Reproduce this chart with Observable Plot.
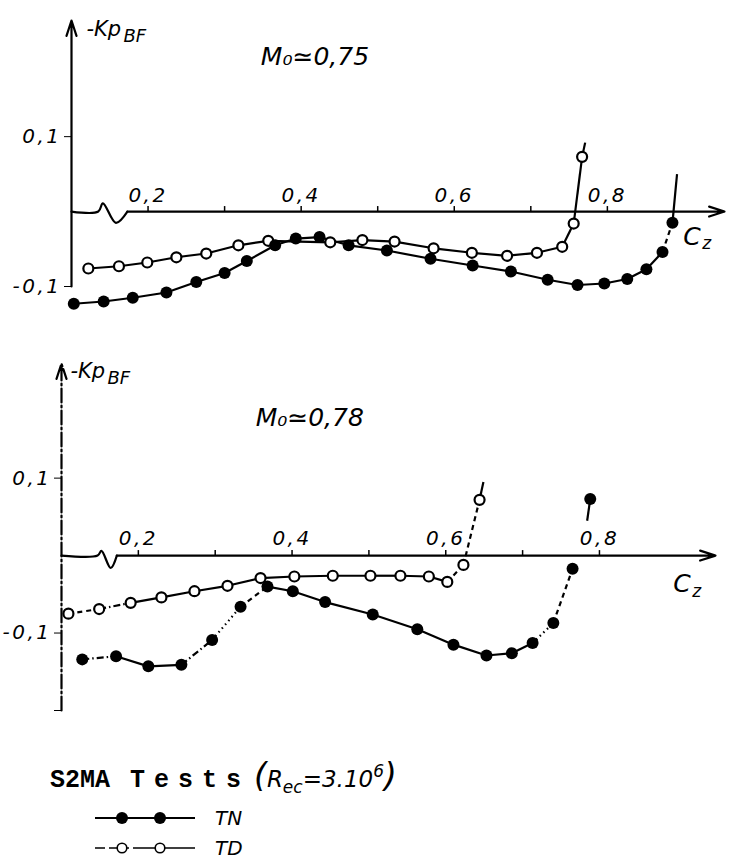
<!DOCTYPE html>
<html>
<head>
<meta charset="utf-8">
<script src="https://cdn.jsdelivr.net/npm/d3@7"></script>
<script src="https://cdn.jsdelivr.net/npm/@observablehq/plot@0.6"></script>
<style>
  html, body { margin: 0; padding: 0; background: #fff; }
  #chart { width: 734px; height: 868px; overflow: hidden; }
  #chart svg { display: block; }
</style>
</head>
<body>
<div id="chart"></div>
<script>
// ---------------- DATA ----------------
const xMajorTicks = [0.2, 0.4, 0.6, 0.8];
const xMinorTicks = [0.3, 0.5, 0.7];
const yTicksTop = [-0.1, 0.1];
const yTicksBottom = [-0.2, -0.1, 0.1];

const machTop = "M₀≃0,75";
const machBottom = "M₀≃0,78";

// M0 ≈ 0.75 — TD (open circles)
const td075Cz = [0.122, 0.162, 0.199, 0.237, 0.276, 0.318, 0.357, 0.438, 0.480, 0.522, 0.573, 0.623, 0.669, 0.708, 0.741, 0.756, 0.767];
const td075Kp = [-0.076, -0.073, -0.068, -0.061, -0.056, -0.045, -0.039, -0.041, -0.038, -0.040, -0.049, -0.055, -0.059, -0.055, -0.047, -0.016, 0.073];
const td075Tail = [0.771, 0.092];

// M0 ≈ 0.75 — TN (filled circles)
const tn075Cz = [0.103, 0.142, 0.180, 0.224, 0.263, 0.300, 0.329, 0.366, 0.393, 0.424, 0.462, 0.512, 0.569, 0.624, 0.674, 0.722, 0.761, 0.796, 0.826, 0.851, 0.872, 0.885];
const tn075Kp = [-0.123, -0.120, -0.115, -0.108, -0.094, -0.082, -0.066, -0.045, -0.036, -0.034, -0.045, -0.052, -0.063, -0.072, -0.080, -0.091, -0.098, -0.096, -0.090, -0.077, -0.054, -0.015];
const tn075Tail = [0.891, 0.050];

// M0 ≈ 0.78 — TD (open circles)
const td078Cz = [0.109, 0.149, 0.190, 0.230, 0.273, 0.316, 0.359, 0.403, 0.453, 0.502, 0.541, 0.578, 0.602, 0.623, 0.644];
const td078Kp = [-0.075, -0.069, -0.061, -0.054, -0.046, -0.039, -0.029, -0.027, -0.026, -0.026, -0.026, -0.027, -0.034, -0.012, 0.072];
const td078Tail = [0.649, 0.095];

// M0 ≈ 0.78 — TN (filled circles)
const tn078Cz = [0.127, 0.171, 0.213, 0.256, 0.296, 0.333, 0.368, 0.401, 0.443, 0.505, 0.563, 0.610, 0.653, 0.686, 0.713, 0.740, 0.765, 0.788];
const tn078Kp = [-0.134, -0.130, -0.143, -0.141, -0.109, -0.066, -0.040, -0.046, -0.060, -0.076, -0.095, -0.115, -0.129, -0.126, -0.113, -0.087, -0.017, 0.073];
const tn078Stub = [0.784, 0.045];

// axis-break glyphs on the Cz axis (in data units)
const breakTop = [[0.135, 0], [0.141, 0.011], [0.158, -0.015], [0.173, 0]];
const breakBottom = [[0.147, 0], [0.152, 0.006], [0.164, -0.016], [0.172, 0]];

// ---------------- RENDERING ----------------
const FONT = "'DejaVu Sans', 'Liberation Sans', sans-serif";
const dashes = {solid: null, dash: "5,4", dot: "1.5,3.5", dashdot: "7,3,1.5,3"};
const fmt = d => Math.abs(d) > 0.15 && d < 0 ? "" : (d < 0 ? "-" : "") + "0," + Math.round(Math.abs(d) * 10);

function segments(cz, kp, tail, styleAt) {
  const segs = [];
  for (let i = 0; i < cz.length - 1; i++) {
    const s = styleAt(i);
    if (s !== "none") segs.push({x1: cz[i], y1: kp[i], x2: cz[i + 1], y2: kp[i + 1], s});
  }
  if (tail) segs.push({x1: cz[cz.length - 1], y1: kp[kp.length - 1], x2: tail[0], y2: tail[1], s: "solid"});
  return segs;
}
function lineMarks(segs) {
  return Object.keys(dashes).map(k => Plot.link(segs.filter(d => d.s === k), {
    x1: "x1", y1: "y1", x2: "x2", y2: "y2",
    stroke: "black", strokeWidth: 2.2, strokeDasharray: dashes[k] || undefined
  }));
}
const pts = (cz, kp) => cz.map((c, i) => ({cz: c, kp: kp[i]}));

function panel(c) {
  const x0 = c.xDomain[0];
  const brk = c.breakShape;
  const svg = Plot.plot({
    width: 734, height: c.height,
    marginLeft: c.marginLeft, marginRight: c.marginRight, marginTop: c.marginTop, marginBottom: c.marginBottom,
    x: {domain: c.xDomain, axis: null},
    y: {domain: c.yDomain, ticks: c.yTicks, tickFormat: fmt, tickSize: 7, tickPadding: 3, label: null},
    style: {fontFamily: FONT, fontStyle: "italic", fontSize: "20px", letterSpacing: "2.5px", background: "white", color: "black", overflow: "visible"},
    marks: [
      Plot.arrow([0], {x1: x0, x2: x0, y1: c.yDomain[0], y2: c.yDomain[1], stroke: "black", strokeWidth: 2.2, headLength: 11, headAngle: 36, strokeDasharray: c.yAxisDash}),
      Plot.line([[x0, 0], ...brk], {x: d => d[0], y: d => d[1], stroke: "black", strokeWidth: 2.2, curve: "catmull-rom"}),
      Plot.arrow([0], {x1: brk[brk.length - 1][0], x2: c.xDomain[1], y1: 0, y2: 0, stroke: "black", strokeWidth: 2.2, headLength: 11, headAngle: 36}),
      Plot.ruleX([...xMajorTicks, ...xMinorTicks], {x: d => d, y1: 0, y2: 0, insetBottom: 5, stroke: "black", strokeWidth: 1.5}),
      Plot.text(xMajorTicks, {x: d => d, y: 0, text: fmt, dy: c.labelDy, fontSize: 20}),
      Plot.text(["C"], {x: c.czAt[0], y: c.czAt[1], text: d => d, textAnchor: "start", fontSize: 25}),
      Plot.text(["z"], {x: c.czAt[0], y: c.czAt[1], text: d => d, textAnchor: "start", fontSize: 17, dx: 19, dy: 7}),
      Plot.text(["-Kp"], {x: x0, y: c.kpAt, text: d => d, textAnchor: "start", fontSize: 21, dx: c.kpDx}),
      Plot.text(["BF"], {x: x0, y: c.kpAt, text: d => d, textAnchor: "start", fontSize: 18, dx: c.kpDx + 37, dy: 7}),
      Plot.text([c.title], {x: c.titleAt[0], y: c.titleAt[1], text: d => d, fontSize: 25}),
      ...lineMarks(c.tdSegs),
      ...lineMarks(c.tnSegs),
      Plot.dot(c.td, {x: "cz", y: "kp", r: 5, fill: "white", stroke: "black", strokeWidth: 2.2}),
      Plot.dot(c.tn, {x: "cz", y: "kp", r: 6, fill: "black", stroke: "none"})
    ]
  });
  const names = ["C", "z", "-Kp", "BF", c.title];
  d3.select(svg).selectAll("text")
    .filter(function () { return names.includes(this.textContent); })
    .style("letter-spacing", "0px");
  return svg;
}

const topPanel = panel({
  height: 330, marginLeft: 71, marginRight: 10, marginTop: 20, marginBottom: 44,
  xDomain: [0.1, 0.953], yDomain: [-0.1, 0.255], yTicks: yTicksTop,
  breakShape: breakTop, labelDy: -16,
  czAt: [0.899, -0.034], kpAt: 0.243, kpDx: 15,
  title: machTop, titleAt: [0.418, 0.206],
  td: pts(td075Cz, td075Kp), tn: pts(tn075Cz, tn075Kp),
  tdSegs: segments(td075Cz, td075Kp, td075Tail, () => "solid"),
  tnSegs: segments(tn075Cz, tn075Kp, tn075Tail, i => i === 20 ? "dash" : "solid")
});

const tn078Style = i => ({0: "dashdot", 3: "dashdot", 4: "dot", 5: "dash", 14: "dot", 15: "dash", 16: "none"})[i] || "solid";
const td078Style = i => ({0: "dash", 1: "dashdot", 12: "dash", 13: "dash"})[i] || "solid";

const bottomPanel = panel({
  height: 400, marginLeft: 61, marginRight: 19, marginTop: 33, marginBottom: 20,
  xDomain: [0.1, 0.951], yDomain: [-0.2, 0.248], yTicks: yTicksBottom,
  breakShape: breakBottom, labelDy: -17, yAxisDash: "14,3,2,3",
  czAt: [0.896, -0.037], kpAt: 0.238, kpDx: 9,
  title: machBottom, titleAt: [0.423, 0.177],
  td: pts(td078Cz, td078Kp), tn: pts(tn078Cz, tn078Kp),
  tdSegs: segments(td078Cz, td078Kp, td078Tail, td078Style),
  tnSegs: segments(tn078Cz, tn078Kp, tn078Stub, tn078Style)
});

const chart = document.getElementById("chart");
chart.appendChild(topPanel);
chart.appendChild(bottomPanel);

const legend = document.createElement("div");
legend.innerHTML = `
<svg width="734" height="138" xmlns="http://www.w3.org/2000/svg" style="display:block">
  <text x="50" y="57" font-family="'Liberation Mono', 'DejaVu Sans Mono', monospace" font-weight="bold" font-size="25">S2MA</text>
  <text x="130" y="57" font-family="'Liberation Mono', 'DejaVu Sans Mono', monospace" font-weight="bold" font-size="25" letter-spacing="9">Tests</text>
  <text x="254" y="57" font-family="${FONT}" font-style="italic" font-size="23"><tspan font-size="33">(</tspan>R<tspan font-size="17" dy="6">ec</tspan><tspan dy="-6">=3.10</tspan><tspan font-size="17" dy="-10">6</tspan><tspan font-size="33" dy="10">)</tspan></text>
  <line x1="95" y1="88" x2="195" y2="88" stroke="black" stroke-width="2"/>
  <circle cx="122" cy="88" r="6" fill="black"/>
  <circle cx="160" cy="88" r="6" fill="black"/>
  <text x="215" y="95" font-family="${FONT}" font-style="italic" font-size="20">TN</text>
  <line x1="95" y1="118" x2="195" y2="118" stroke="black" stroke-width="1.6" stroke-dasharray="10,4,20,4,200"/>
  <circle cx="122" cy="118" r="4.8" fill="white" stroke="black" stroke-width="1.6"/>
  <circle cx="160" cy="118" r="4.8" fill="white" stroke="black" stroke-width="1.6"/>
  <text x="215" y="125" font-family="${FONT}" font-style="italic" font-size="20">TD</text>
</svg>`;
chart.appendChild(legend);
</script>
</body>
</html>
